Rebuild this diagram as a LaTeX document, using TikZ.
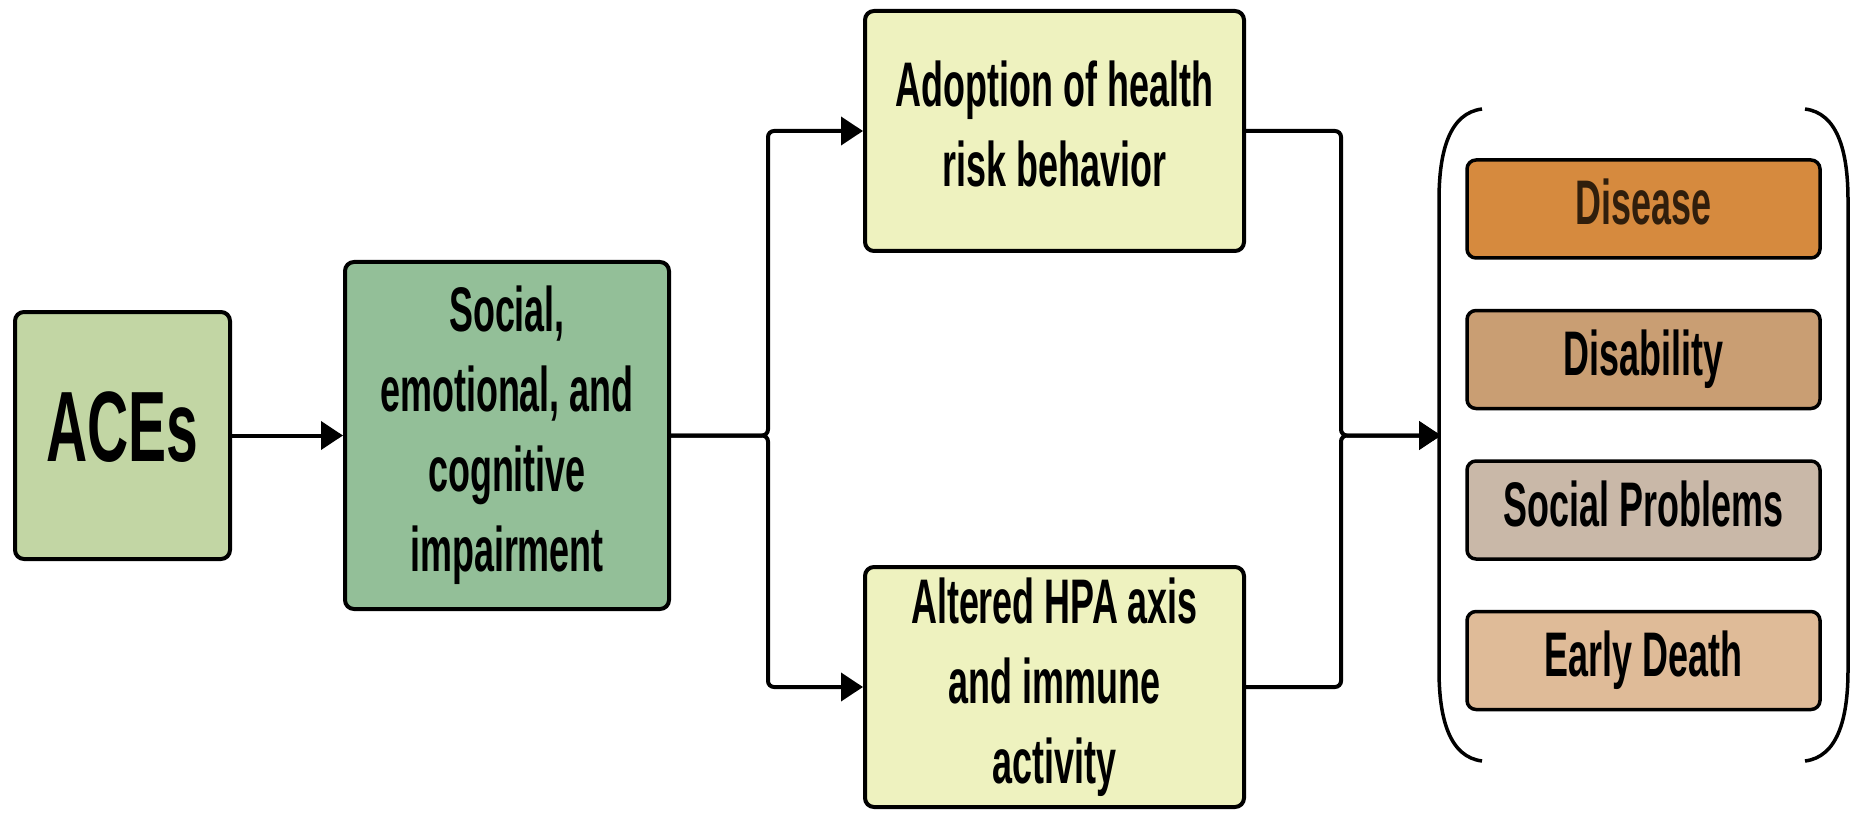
\documentclass[tikz,border=0pt]{standalone}
\usepackage{fontspec}
\newfontfamily\labfont[FakeStretch=0.57]{Liberation Sans}
\usetikzlibrary{arrows.meta}
\definecolor{acesfill}{RGB}{194,214,164}
\definecolor{impfill}{RGB}{147,191,152}
\definecolor{yelfill}{RGB}{238,242,191}
\definecolor{disfill}{RGB}{214,138,62}
\definecolor{disafill}{RGB}{201,158,115}
\definecolor{socfill}{RGB}{201,184,168}
\definecolor{earlyfill}{RGB}{223,187,152}
\definecolor{distext}{RGB}{48,30,12}
\newcommand\tlines[1]{\begin{tabular}{@{}c@{}}#1\end{tabular}}
\begin{document}
\begin{tikzpicture}[x=1pt,y=-1pt,
  box/.style={draw=black, line width=4pt, rounded corners=9pt, align=center,
    inner sep=0pt, font=\labfont\bfseries\fontsize{63}{80}\selectfont},
  outbox/.style={box, line width=3.5pt, minimum width=353pt, minimum height=98pt},
  conn/.style={line width=4pt, rounded corners=6pt},
  tip/.style={-{Triangle[length=22pt,width=28pt]}},
  paren/.style={line width=3.5pt}
]
\path[use as bounding box, fill=white] (0,0) rectangle (1856,813);

\node[box, fill=acesfill, minimum width=215pt, minimum height=247pt,
  font=\labfont\bfseries\fontsize{100}{110}\selectfont] (aces) at (122.5,435.5) {\raisebox{17pt}{ACEs}};
\node[box, fill=impfill, minimum width=324pt, minimum height=347pt] (imp) at (507,435.5)
  {\tlines{Social,\\emotional, and\\cognitive\\impairment}};
\node[box, fill=yelfill, minimum width=379pt, minimum height=240pt] (risk) at (1054.5,131)
  {\tlines{Adoption of health\\risk behavior}};
\node[box, fill=yelfill, minimum width=379pt, minimum height=240pt] (hpa) at (1054.5,687)
  {\tlines{Altered HPA axis\\and immune\\activity}};

\node[outbox, fill=disfill, text=distext] (disease) at (1643.5,209) {\tlines{Disease}};
\node[outbox, fill=disafill] (disab) at (1643.5,359.5) {\tlines{Disability}};
\node[outbox, fill=socfill] (social) at (1643.5,510) {\tlines{Social Problems}};
\node[outbox, fill=earlyfill] (death) at (1643.5,660.5) {\tlines{Early Death}};

% bracket
\draw[paren] (1482,109) .. controls (1450,113) and (1439,150) .. (1439,200)
  -- (1439,670) .. controls (1439,720) and (1450,757) .. (1482,761);
\draw[paren] (1805,109) .. controls (1837,113) and (1848,150) .. (1848,200)
  -- (1848,670) .. controls (1848,720) and (1837,757) .. (1805,761);

\coordinate (jl) at (768,435.5);
\coordinate (jr) at (1341,435.5);
\coordinate (brk) at (1441,435.5);

\draw[conn, tip] (aces.east) -- (imp.west);
\draw[conn, tip] (imp.east) -- (jl) |- (risk.west);
\draw[conn, tip] (imp.east) -- (jl) |- (hpa.west);
\draw[conn, tip] (risk.east) -| (jr) -- (brk);
\draw[conn, tip] (hpa.east) -| (jr) -- (brk);
\end{tikzpicture}
\end{document}
